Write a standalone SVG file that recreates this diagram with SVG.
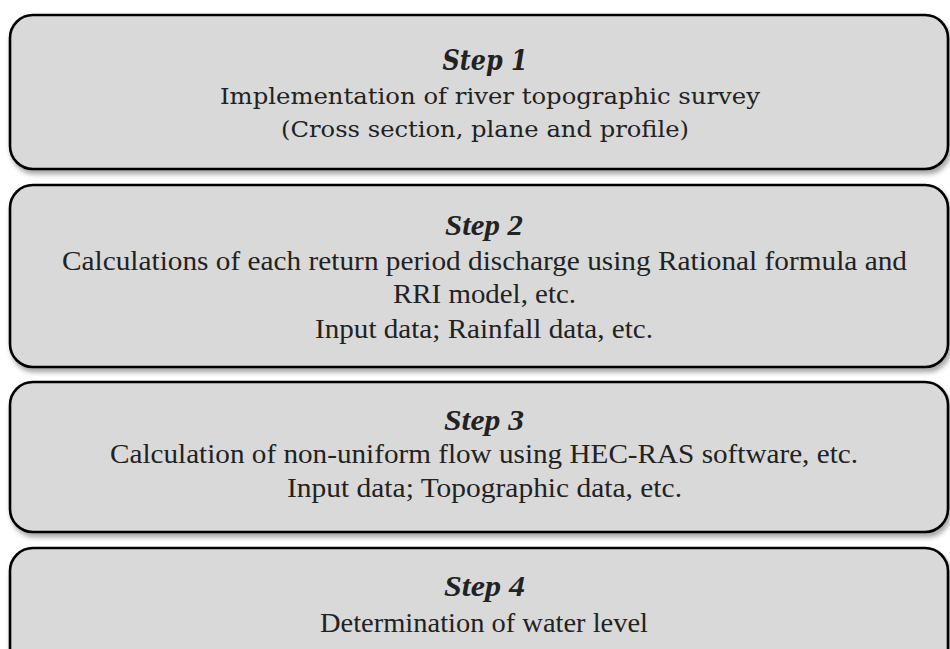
<svg xmlns="http://www.w3.org/2000/svg" width="950" height="649" viewBox="0 0 950 649">
<defs>
<filter id="sh" x="-5%" y="-10%" width="115%" height="130%">
<feDropShadow dx="2" dy="4" stdDeviation="2.5" flood-color="#000" flood-opacity="0.35"/>
</filter>
</defs>
<style>
.box{fill:#d9d9d9;stroke:#000;stroke-width:2.6;filter:url(#sh)}
.t{fill:#222;text-anchor:middle}
.cam{font-family:"DejaVu Serif","Liberation Serif",serif;font-size:23px}
.camh{font-family:"DejaVu Serif","Liberation Serif",serif;font-size:27px;font-weight:bold;font-style:italic}
.tm{font-family:"Liberation Serif","Times New Roman",serif;font-size:27px}
.tmh{font-family:"Liberation Serif","Times New Roman",serif;font-size:30px;font-weight:bold;font-style:italic}
</style>
<rect width="950" height="649" fill="#fff"/>
<g id="step1">
<rect class="box" x="10" y="15" width="938" height="154" rx="23"/>
<text class="t camh" x="485" y="70" textLength="85" lengthAdjust="spacingAndGlyphs">Step 1</text>
<text class="t cam" x="490" y="104" textLength="540" lengthAdjust="spacingAndGlyphs">Implementation of river topographic survey</text>
<text class="t cam" x="485" y="137" textLength="408" lengthAdjust="spacingAndGlyphs">(Cross section, plane and profile)</text>
</g>
<g id="step2">
<rect class="box" x="10" y="185" width="938" height="182" rx="23"/>
<text class="t tmh" x="484" y="235" textLength="78" lengthAdjust="spacingAndGlyphs">Step 2</text>
<text class="t tm" x="484.5" y="270" textLength="845" lengthAdjust="spacingAndGlyphs">Calculations of each return period discharge using Rational formula and</text>
<text class="t tm" x="484.5" y="303" textLength="183" lengthAdjust="spacingAndGlyphs">RRI model, etc.</text>
<text class="t tm" x="484" y="338" textLength="338" lengthAdjust="spacingAndGlyphs">Input data; Rainfall data, etc.</text>
</g>
<g id="step3">
<rect class="box" x="10" y="382" width="938" height="150" rx="23"/>
<text class="t tmh" x="484" y="430" textLength="80" lengthAdjust="spacingAndGlyphs">Step 3</text>
<text class="t tm" x="484" y="463" textLength="748" lengthAdjust="spacingAndGlyphs">Calculation of non-uniform flow using HEC-RAS software, etc.</text>
<text class="t tm" x="484.5" y="497" textLength="395" lengthAdjust="spacingAndGlyphs">Input data; Topographic data, etc.</text>
</g>
<g id="step4">
<rect class="box" x="10" y="548" width="938" height="140" rx="23"/>
<text class="t tmh" x="484.5" y="596" textLength="81" lengthAdjust="spacingAndGlyphs">Step 4</text>
<text class="t tm" x="484" y="632" textLength="328" lengthAdjust="spacingAndGlyphs">Determination of water level</text>
</g>
<g id="connectors"/>
</svg>
